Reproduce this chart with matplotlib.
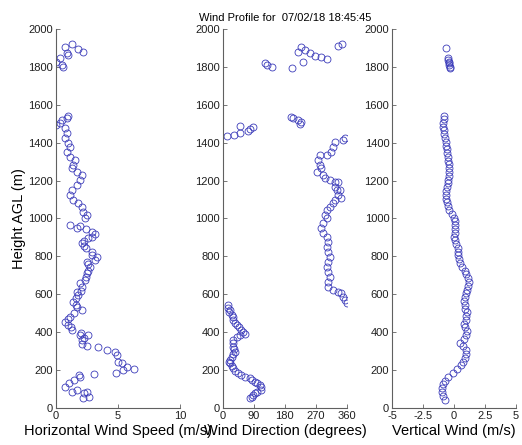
import matplotlib
matplotlib.use("Agg")
import matplotlib.pyplot as plt

plt.rcParams['font.family'] = ['Liberation Sans', 'DejaVu Sans']

title = "Wind Profile for  07/02/18 18:45:45"

# horizontal wind speed (m/s) vs height (m)
h_speed = [53, 60, 79, 86, 86, 95, 112, 132, 148, 165, 172, 179, 186, 200, 206, 218,
           236, 244, 280, 297, 306, 320, 327, 340, 359, 370, 385, 385, 395, 412, 430,
           440, 455, 470, 482, 500, 517, 535, 545, 561, 580, 596, 610, 620, 640, 660,
           675, 690, 711, 725, 746, 760, 772, 781, 798, 810, 825, 843, 855, 869, 880,
           895, 905, 918, 930, 943, 948, 960, 966, 1001, 1018, 1036, 1062, 1080, 1098,
           1124, 1150, 1177, 1203, 1230, 1247, 1265, 1282, 1309, 1326, 1353, 1379,
           1397, 1423, 1450, 1476, 1493, 1502, 1520, 1529, 1541,
           1801, 1810, 1828, 1845, 1863, 1871, 1880, 1893, 1907, 1921]
speed = [2.2, 2.7, 2.3, 2.5, 1.27, 1.67, 0.73, 1.1, 1.5, 1.94, 1.9, 3.1, 4.84, 5.4, 6.3, 5.7,
         5.3, 5.0, 4.9, 4.76, 4.1, 3.4, 2.5, 2.1, 2.07, 2.3, 2.6, 1.94, 2.0, 1.27, 1.2,
         1.0, 0.73, 1.0, 1.13, 1.5, 2.07, 1.67, 1.6, 1.4, 1.6, 1.8, 1.7, 2.0, 2.07, 1.94,
         2.34, 2.4, 2.53, 2.6, 2.74, 2.6, 2.5, 3.15, 3.28, 2.9, 2.88, 2.42, 2.3, 2.07, 2.3,
         2.6, 2.9, 3.15, 2.88, 2.47, 1.67, 1.94, 1.13, 2.34, 2.53, 2.2, 2.07, 1.8, 1.4,
         1.13, 1.27, 1.67, 1.94, 2.07, 1.67, 1.27, 1.4, 1.53, 1.13, 0.86, 1.13,
         1.0, 0.73, 0.86, 0.73, 0.0, 0.32, 0.46, 0.86, 1.0,
         0.59, 0.5, 0.05, 0.32, 1.0, 0.86, 2.2, 1.8, 0.73, 1.27]

# wind direction (degrees) vs height (m)
h_dir = [51, 60, 69, 78, 86, 95, 110, 121, 130, 139, 148, 157, 165, 175, 183, 196,
         209, 222, 236, 245, 255, 271, 285, 297, 310, 323, 345, 359, 375, 385, 390,
         400, 412, 425, 438, 450, 464, 480, 491, 505, 517, 530, 543,
         552, 570, 587, 608, 614, 623, 640, 666, 693, 719, 746, 772, 798, 825, 851,
         878, 904, 922, 948, 975, 1001, 1018, 1045, 1062, 1080, 1098, 1106, 1124,
         1150, 1150, 1168, 1194, 1194, 1203, 1212, 1230, 1247, 1265, 1282, 1309,
         1335, 1335, 1353, 1379, 1405, 1414, 1423,
         1433, 1441, 1453, 1463, 1470, 1481, 1488, 1499, 1511, 1520, 1530, 1538,
         1792, 1801, 1810, 1822, 1828, 1840, 1850, 1857, 1871, 1880, 1889, 1905,
         1910, 1921]
direction = [78, 84, 88, 92, 98, 112, 110, 107, 100, 93, 85, 78, 64, 52, 44, 36,
             30, 25, 20, 18, 22, 25, 30, 35, 32, 30, 28, 30, 40, 49, 64,
             58, 54, 46, 40, 35, 30, 28, 25, 18, 20, 14, 15,
             359, 354, 349, 344, 335, 320, 306, 306, 311, 306, 301, 306, 311, 306, 301,
             306, 301, 291, 286, 291, 301, 296, 301, 311, 320, 325, 344, 335,
             330, 340, 325, 325, 335, 311, 296, 291, 272, 286, 282, 277,
             282, 301, 315, 320, 325, 349, 354,
             11, 32, 49, 73, 78, 88, 49, 224, 228, 219, 203, 199,
             202, 144, 129, 122, 233, 301, 284, 267, 252, 219, 238, 228,
             335, 347]

# vertical wind (m/s) vs height (m)
h_vert = [45, 65, 85, 105, 125, 145, 165, 185, 205, 225, 245, 265, 285, 305, 325,
          345, 365, 385, 405, 425, 445, 465, 485, 505, 525, 545, 565, 585, 605, 625,
          645, 665, 685, 705, 725, 745, 765, 785, 805, 825, 845, 865, 885, 905, 925,
          945, 965, 985, 1005, 1025, 1045, 1065, 1085, 1105, 1125, 1145, 1165, 1185,
          1205, 1225, 1245, 1265, 1285, 1305, 1325, 1345, 1365, 1385, 1405, 1425,
          1445, 1465, 1485, 1505, 1525, 1540,
          1792, 1801, 1810, 1819, 1828, 1837, 1845, 1898]
vert = [-0.75, -0.88, -0.99, -0.99, -0.85, -0.7, -0.46, -0.1, 0.25, 0.55, 0.75, 0.85,
        0.98, 0.95, 0.75, 0.5, 0.8, 0.98, 1.02, 0.9, 0.83, 0.94, 1.0, 1.02, 0.9, 0.85,
        0.83, 0.85, 0.95, 1.05, 1.15, 1.18, 1.15, 1.0, 0.87, 0.65, 0.47, 0.38, 0.3,
        0.32, 0.33, 0.2, 0.06, 0.0, 0.05, 0.06, 0.08, 0.06, 0.0, -0.2, -0.38, -0.5,
        -0.6, -0.65, -0.68, -0.65, -0.6, -0.52, -0.46, -0.4, -0.38, -0.4, -0.43,
        -0.46, -0.5, -0.55, -0.59, -0.62, -0.65, -0.72, -0.78, -0.81, -0.85, -0.86,
        -0.83, -0.78,
        -0.32, -0.35, -0.38, -0.4, -0.42, -0.45, -0.46, -0.65]

yticks = [0, 200, 400, 600, 800, 1000, 1200, 1400, 1600, 1800, 2000]

fig = plt.figure(figsize=(5.22, 4.45), dpi=100)

panels = [
    (0.107, h_speed, speed, (0, 10), [0, 5, 10], ['0', '5', '10'], 'Horizontal Wind Speed (m/s)'),
    (0.427, h_dir, direction, (0, 360), [0, 90, 180, 270, 360], ['0', '90', '180', '270', '360'], 'Wind Direction (degrees)'),
    (0.751, h_vert, vert, (-5, 5), [-5, -2.5, 0, 2.5, 5], ['-5', '-2.5', '0', '2.5', '5'], 'Vertical Wind (m/s)'),
]

axes = []
for left, hh, vals, xl, xt, xtl, lab in panels:
    ax = fig.add_axes([left, 0.083, 0.2375, 0.852])
    ax.plot(vals, hh, 'o', mfc='none', mec='#3c3cba', ms=5.0, mew=0.6)
    ax.set_xlim(xl)
    ax.set_ylim(0, 2000)
    ax.set_xticks(xt)
    ax.set_xticklabels(xtl)
    ax.set_yticks(yticks)
    ax.set_xlabel(lab, fontsize=10.5, labelpad=2)
    ax.spines['top'].set_visible(False)
    ax.spines['right'].set_visible(False)
    for s in ['left', 'bottom']:
        ax.spines[s].set_color('#606060')
        ax.spines[s].set_linewidth(0.8)
    ax.tick_params(direction='in', length=3, width=0.6, colors='#606060',
                   labelcolor='#202020', labelsize=8, pad=2)
    axes.append(ax)

axes[0].set_ylabel('Height AGL (m)', fontsize=10.5, labelpad=2)
axes[1].set_title(title, fontsize=8, pad=6)

fig.savefig('out.png', dpi=100)
